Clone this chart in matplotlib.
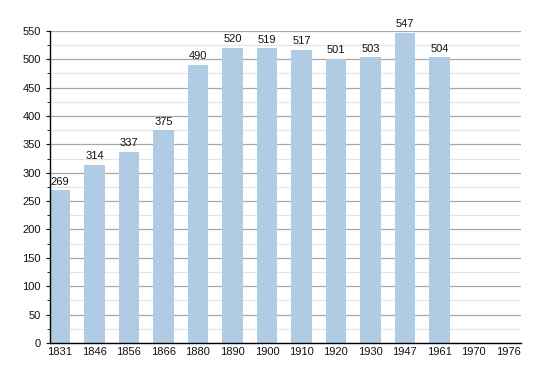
import numpy as np
from matplotlib import pyplot as plt

plt.rcParams['font.family'] = ['Liberation Sans', 'DejaVu Sans']

years = ['1831', '1846', '1856', '1866', '1880', '1890', '1900', '1910',
         '1920', '1930', '1947', '1961', '1970', '1976']
population = [269, 314, 337, 375, 490, 520, 519, 517, 501, 503, 547, 504, None, None]

fig = plt.figure(figsize=(5.5, 3.73), dpi=100)
ax = fig.add_axes([0.0909, 0.0804, 0.856, 0.837])

x = np.arange(len(years))
vals = [v if v is not None else 0 for v in population]
ax.bar(x, vals, width=0.6, color='#b0cbe4', zorder=2)
for xi, v in zip(x, population):
    if v is not None:
        ax.text(xi, v + 6, str(v), ha='center', va='bottom', fontsize=8, color='#111111')

ax.set_ylim(0, 550)
ax.set_xlim(-0.29, 13.36)
ax.set_yticks(np.arange(0, 551, 50))
ax.set_yticks(np.arange(25, 551, 50), minor=True)
ax.grid(axis='y', which='major', color='#a8a8a8', lw=0.9, zorder=0)
ax.grid(axis='y', which='minor', color='#e4e4e4', lw=0.9, zorder=0)
ax.set_xticks(x)
ax.set_xticklabels(years)
ax.tick_params(axis='x', length=0, labelsize=8, pad=3, colors='#111111')
ax.tick_params(axis='y', which='major', length=3, labelsize=8, colors='#111111')
ax.tick_params(axis='y', which='minor', length=2)
for s in ['top', 'right']:
    ax.spines[s].set_visible(False)
ax.spines['left'].set_linewidth(1)
ax.spines['bottom'].set_linewidth(1)

plt.savefig('out.png', dpi=100)
